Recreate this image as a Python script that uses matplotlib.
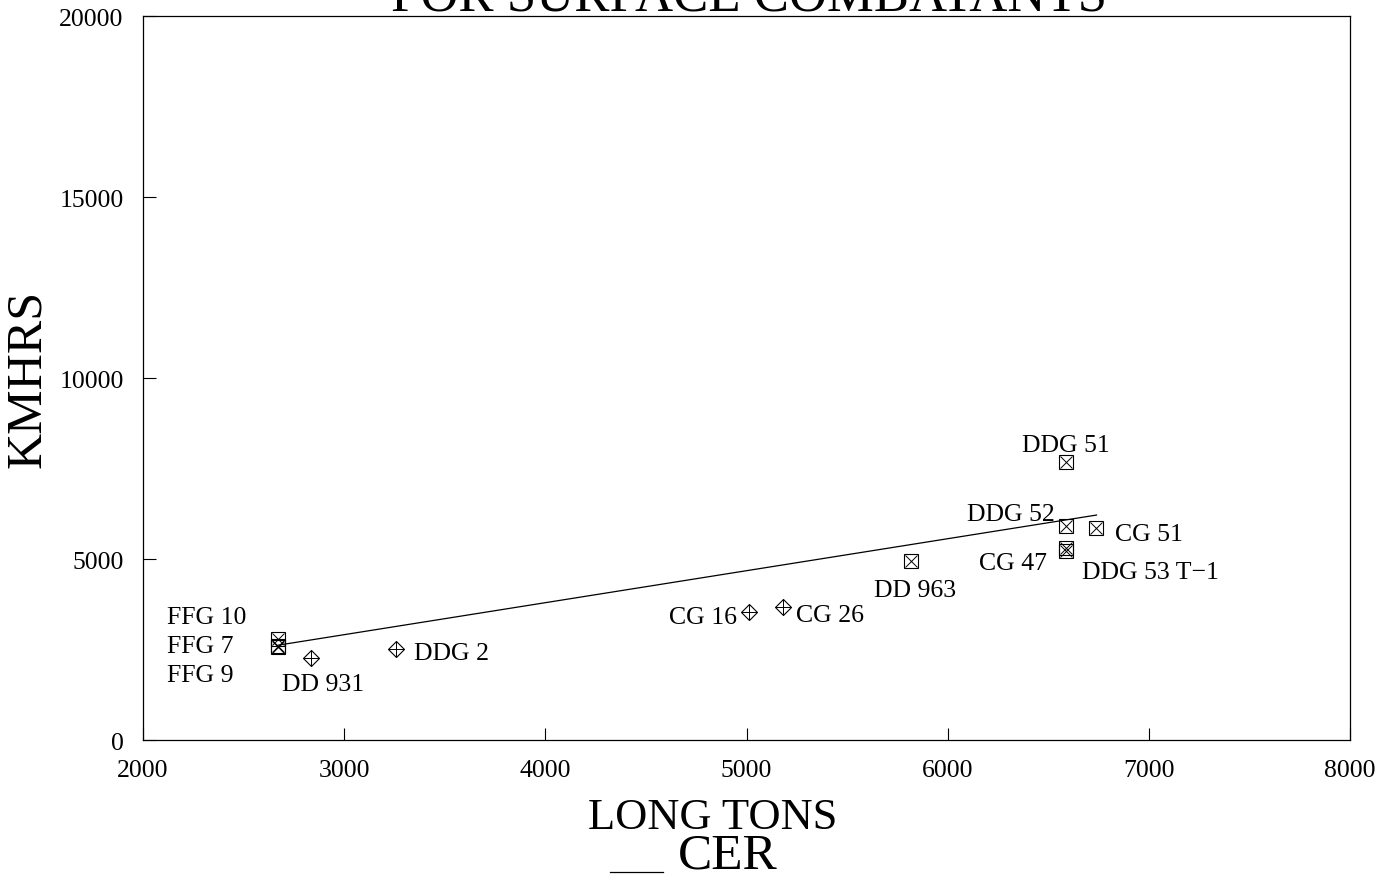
import matplotlib

matplotlib.use("Agg")
import matplotlib.pyplot as plt

plt.rcParams.update({"font.family": "Liberation Serif", "mathtext.fontset": "stix"})

# ships built with the newer hull/system standard (boxed X markers)
BOX_NAMES = ["FFG 10", "FFG 7", "FFG 9", "DD 963", "DDG 51", "DDG 52",
             "CG 51", "CG 47", "DDG 53 T\u22121"]
BOX_TONS = [2671, 2671, 2671, 5817, 6587, 6587, 6736, 6587, 6587]
BOX_KMHRS = [2790, 2600, 2560, 4945, 7680, 5912, 5856, 5304, 5221]

# older ships (diamond + cross markers)
DIA_NAMES = ["DD 931", "DDG 2", "CG 16", "CG 26"]
DIA_TONS = [2835, 3257, 5012, 5181]
DIA_KMHRS = [2265, 2514, 3536, 3674]

# CER fit line end points
CER_TONS = [2671, 6740]
CER_KMHRS = [2620, 6215]

# label offsets in pixels (dx, dy) and horizontal alignment
LABEL_POS = {
    "FFG 10": (-111, 22, "left"), "FFG 7": (-111, 0, "left"),
    "FFG 9": (-111, -28, "left"), "DD 931": (12, -26, "center"),
    "DDG 2": (18, -4, "left"), "CG 16": (-12, -5, "right"),
    "CG 26": (13, -8, "left"), "DD 963": (4, -29, "center"),
    "DDG 51": (0, 17, "center"), "DDG 52": (-11, 12, "right"),
    "CG 51": (19, -6, "left"), "CG 47": (-19, -15, "right"),
    "DDG 53 T\u22121": (16, -21, "left"),
}


def main():
    fig = plt.figure(figsize=(13.93, 8.78), dpi=100)
    ax = fig.add_axes([0.1027, 0.156, 0.8664, 0.8246])

    ax.plot(CER_TONS, CER_KMHRS, color="black", lw=0.9)

    ax.plot(BOX_TONS, BOX_KMHRS, ls="none", marker="s", ms=10, mfc="none",
            mec="black", mew=0.8)
    ax.plot(BOX_TONS, BOX_KMHRS, ls="none", marker="x", ms=8.5, mec="black", mew=0.7)
    ax.plot(DIA_TONS, DIA_KMHRS, ls="none", marker="D", ms=8, mfc="none",
            mec="black", mew=0.8)
    ax.plot(DIA_TONS, DIA_KMHRS, ls="none", marker="+", ms=11, mec="black", mew=0.7)

    for names, xs, ys in ((BOX_NAMES, BOX_TONS, BOX_KMHRS),
                          (DIA_NAMES, DIA_TONS, DIA_KMHRS)):
        for n, x, y in zip(names, xs, ys):
            dx, dy, ha = LABEL_POS[n]
            ax.annotate(n, (x, y), xytext=(dx, dy), textcoords="offset pixels",
                        ha=ha, va="center", fontsize=18.5)

    ax.set_xlim(2000, 8000)
    ax.set_ylim(0, 20000)
    ax.set_xticks(range(2000, 8001, 1000))
    ax.set_yticks(range(0, 20001, 5000))
    ax.tick_params(direction="in", length=9, width=0.8, labelsize=18.5, pad=14)
    for sp in ax.spines.values():
        sp.set_linewidth(0.9)

    ax.set_xlabel("LONG TONS", fontsize=32)
    ax.xaxis.set_label_coords(0.472, -0.079, transform=ax.transAxes)
    ax.xaxis.label.set_va("top")
    ax.set_ylabel("KMHRS", fontsize=36)
    ax.yaxis.set_label_coords(-0.0953, 0.5, transform=ax.transAxes)
    ax.yaxis.label.set_va("center")

    fig.text(0.538, 0.9886, "FOR SURFACE COMBATANTS", ha="center",
             va="baseline", fontsize=38)
    # legend entry for the fit line, sitting below the axis title
    fig.add_artist(plt.Line2D([610 / 1393, 663 / 1393], [0.006, 0.006],
                              color="black", lw=0.9))
    fig.text(678 / 1393, 0.011, "CER", ha="left", va="baseline", fontsize=37)

    fig.savefig("out.png", dpi=100)
    plt.close(fig)


if __name__ == "__main__":
    main()
